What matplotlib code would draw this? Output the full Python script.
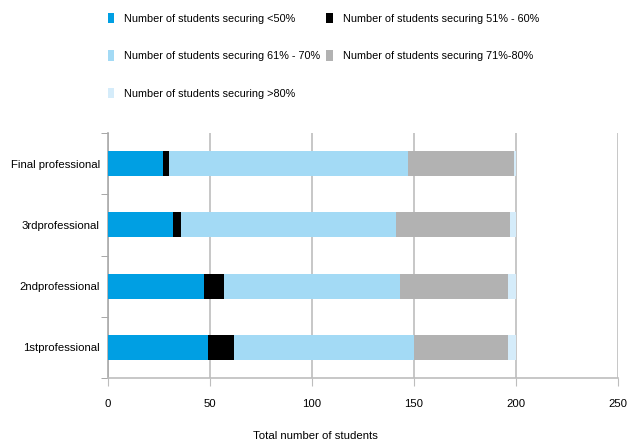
import matplotlib.pyplot as plt
import numpy as np

plt.rcParams['font.family'] = ['Liberation Sans', 'DejaVu Sans']

# data (bottom to top)
years = ['1stprofessional', '2ndprofessional', '3rdprofessional', 'Final professional']
below_50 = [49, 47, 32, 27]
p51_60 = [13, 10, 4, 3]
p61_70 = [88, 86, 105, 117]
p71_80 = [46, 53, 56, 52]
above_80 = [4, 4, 3, 1]

series = [below_50, p51_60, p61_70, p71_80, above_80]
labels = ['Number of students securing <50%',
          'Number of students securing 51% - 60%',
          'Number of students securing 61% - 70%',
          'Number of students securing 71%-80%',
          'Number of students securing >80%']
colors = ['#009FE3', '#000000', '#A3DAF5', '#B2B2B2', '#D5ECFA']

fig = plt.figure(figsize=(6.39, 4.43), dpi=100)
ax = fig.add_axes([108 / 639, 1 - 378 / 443, 510 / 639, 245 / 443])

y = np.arange(len(years))
left = np.zeros(len(years))
handles = []
for vals, lab, col in zip(series, labels, colors):
    h = ax.barh(y, vals, left=left, height=0.41, color=col, label=lab, zorder=3)
    handles.append(h)
    left += np.array(vals)

ax.set_xlim(0, 250)
ax.set_ylim(-0.5, 3.5)
ax.set_xticks(range(0, 251, 50))
ax.xaxis.grid(True, color='#BDBDBD', linewidth=1.2, zorder=0)
ax.set_yticks(y)
ax.set_yticklabels(years, fontsize=8.2)
ax.tick_params(axis='y', length=0, pad=6)
ax.set_yticks(np.arange(-0.5, 3.6, 1), minor=True)
ax.tick_params(axis='y', which='minor', length=5, color='#999999')
ax.tick_params(axis='x', length=6, color='#BDBDBD', labelsize=8.2, pad=9)
for s in ['top', 'right']:
    ax.spines[s].set_visible(False)
ax.spines['left'].set_color('#AAAAAA')
ax.spines['bottom'].set_color('#BDBDBD')
ax.spines['left'].set_linewidth(1.2)
ax.spines['bottom'].set_linewidth(1.2)

fig.text(0.494, 0.008, 'Total number of students', ha='center', fontsize=8.2)

order = [0, 2, 4, 1, 3]
fig.legend([handles[i] for i in order], [labels[i] for i in order],
           ncol=2, loc='upper left', bbox_to_anchor=(0.153, 0.993),
           frameon=False, fontsize=7.8, handlelength=0.6, handleheight=1.1,
           handletextpad=0.9, columnspacing=0.6, labelspacing=2.45)

fig.savefig('out.png', dpi=100)
